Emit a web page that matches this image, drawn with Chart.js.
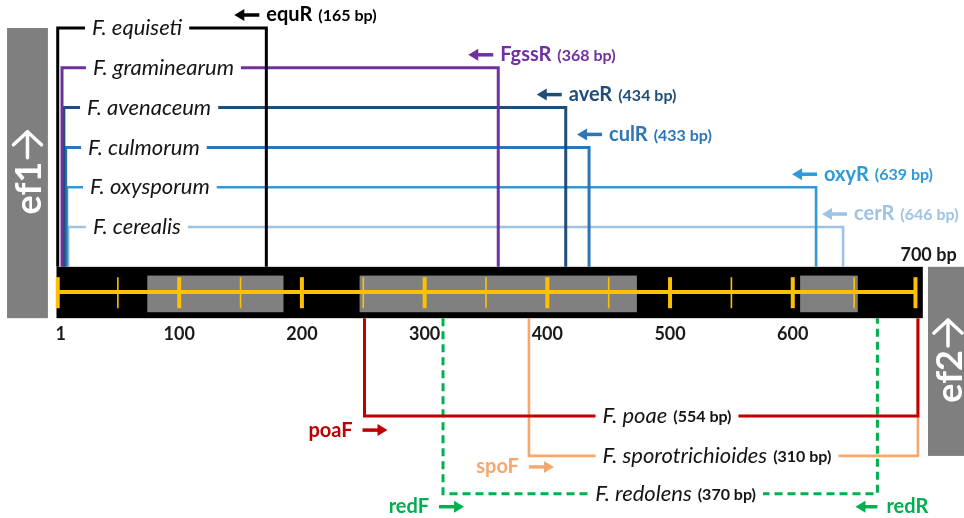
<!DOCTYPE html>
<html>
<head>
<meta charset="utf-8">
<script src="https://cdn.jsdelivr.net/npm/chart.js@4.4.1/dist/chart.umd.min.js"></script>
<style>
  html, body { margin: 0; padding: 0; background: #ffffff; }
  #wrap { width: 964px; height: 518px; }
</style>
</head>
<body>
<div id="wrap"><canvas id="map" width="964" height="518"></canvas></div>
<script>
// ---- EF-1α region: species-specific primer pairs (positions in bp) ----

// Species amplified with the common forward primer ef1 (reverse primers are specific)
const topSpecies   = ['F. equiseti', 'F. graminearum', 'F. avenaceum', 'F. culmorum', 'F. oxysporum', 'F. cerealis'];
const topPrimers   = ['equR', 'FgssR', 'aveR', 'culR', 'oxyR', 'cerR'];
const topProduct   = [165, 368, 434, 433, 639, 646];      // product size, bp
const topStart     = [1, 4.5, 6, 7.5, 8.5, 9.5];          // ef1 site
const topEnd       = [171, 360, 415, 434, 619, 641];      // reverse primer site

// Species amplified with a specific forward primer
const bottomSpecies = ['F. poae', 'F. sporotrichioides', 'F. redolens'];
const bottomPrimers = ['poaF', 'spoF', 'redF'];
const bottomProduct = [554, 310, 370];
const bottomStart   = [251, 385, 315];
const bottomEnd     = [702, 702, 669];
const redolensReverse = 'redR';

// Sequence ruler
const seqTicksMajor = [1, 100, 200, 300, 400, 500, 600, 700];
const seqTicksMinor = [50, 150, 250, 350, 450, 550, 650];
const seqTickLabels = ['1', '100', '200', '300', '400', '500', '600'];
const seqEndLabel   = '700 bp';
const greySegments  = [[74, 185], [247, 473], [606, 653]];

// ---- layout (lane units on y, bp on x) ----
const topLane    = [0, 1, 2, 3, 4, 5];
const bottomLane = [9.75, 10.75, 11.7];
const BAR = { top: 6.0, bottom: 7.29, mid: 6.63, greyTop: 6.22, greyBottom: 7.14, tickTop: 6.26, tickBottom: 7.04, left: 0, right: 706 };
const EF1_BOX = { x0: -40.3, x1: -7.0 };
const EF2_BOX = { x0: 710.2, x1: 745 };

const topColors    = ['#000000', '#7030A0', '#1F4E79', '#2E75B6', '#2E9AD8', '#9DC3E6'];
const bottomColors = ['#C00000', '#F4A86E', '#00B050'];
const topWidths    = [3, 3, 3, 3, 2.6, 2.6];
const bottomWidths = [3, 2.6, 3];

const topLabelX        = [28.9, 29.7, 24.9, 25.7, 27.3, 29.7];  // left edge of species label
const bottomLabelX     = [445, 445, 439];
const topArrowShift    = [-7, -5, -4, 13, 1, 4];                 // px from reverse site to arrow tail
const bottomArrowShift = [-2, 0, -4];
const bottomArrowDy    = [14, 11, 13];

const FONT = 'Lato, "Open Sans", "Noto Sans", sans-serif';
const SPECIES_FONT = 'italic 22px ' + FONT;
const SIZE_FONT = 'bold 16px ' + FONT;

// ---- datasets: one bracket per amplicon ----
const datasets = [];
topSpecies.forEach((name, i) => {
  datasets.push({
    label: name,
    data: [
      { x: topStart[i], y: BAR.top },
      { x: topStart[i], y: topLane[i] },
      { x: topEnd[i],   y: topLane[i] },
      { x: topEnd[i],   y: BAR.top }
    ],
    borderColor: topColors[i],
    borderWidth: topWidths[i]
  });
});
bottomSpecies.forEach((name, i) => {
  datasets.push({
    label: name,
    data: [
      { x: bottomStart[i], y: BAR.bottom },
      { x: bottomStart[i], y: bottomLane[i] },
      { x: bottomEnd[i],   y: bottomLane[i] },
      { x: bottomEnd[i],   y: BAR.bottom }
    ],
    borderColor: bottomColors[i],
    borderWidth: bottomWidths[i],
    borderDash: name === 'F. redolens' ? [8, 5] : []
  });
});
datasets.forEach(d => Object.assign(d, {
  showLine: true, pointRadius: 0, pointHoverRadius: 0, tension: 0,
  borderJoinStyle: 'miter', borderCapStyle: 'butt', fill: false, clip: false
}));

// ---- drawing helpers ----
function arrow(ctx, xTail, y, dir, len, color) {
  const head = 10, hw = 6;
  const xTip = xTail + dir * len;
  ctx.save();
  ctx.strokeStyle = color; ctx.fillStyle = color; ctx.lineWidth = 3.5;
  ctx.beginPath(); ctx.moveTo(xTail, y); ctx.lineTo(xTip - dir * head * 0.7, y); ctx.stroke();
  ctx.beginPath(); ctx.moveTo(xTip, y); ctx.lineTo(xTip - dir * head, y - hw); ctx.lineTo(xTip - dir * head, y + hw); ctx.closePath(); ctx.fill();
  ctx.restore();
}

function speciesLabel(ctx, x, y, name, size) {
  ctx.font = SPECIES_FONT;
  const w1 = ctx.measureText(name).width;
  let w = w1, w2 = 0;
  const sizeText = size ? '(' + size + ' bp)' : '';
  if (size) {
    ctx.font = SIZE_FONT;
    w2 = ctx.measureText(sizeText).width;
    w = w1 + 6 + w2;
  }
  ctx.fillStyle = '#ffffff';
  ctx.fillRect(x - 7, y - 6, w + 14, 12);
  ctx.textBaseline = 'middle'; ctx.textAlign = 'left';
  ctx.fillStyle = '#151515';
  ctx.font = SPECIES_FONT;
  ctx.fillText(name, x, y);
  if (size) {
    ctx.font = SIZE_FONT;
    ctx.fillText(sizeText, x + w1 + 6, y + 1);
  }
}

function efLabel(ctx, cx, cy, text) {
  ctx.save();
  ctx.translate(cx, cy);
  ctx.rotate(-Math.PI / 2);
  ctx.fillStyle = '#ffffff'; ctx.strokeStyle = '#ffffff';
  ctx.font = 'bold 36px ' + FONT;
  ctx.textBaseline = 'middle'; ctx.textAlign = 'left';
  const tw = ctx.measureText(text).width;
  const aw = 26, gap = 4;
  const x0 = -(tw + gap + aw) / 2;
  ctx.fillText(text, x0, 2);
  // arrow along the reading direction
  const ax0 = x0 + tw + gap, ax1 = ax0 + aw;
  ctx.lineWidth = 3.5; ctx.lineCap = 'round'; ctx.lineJoin = 'round';
  ctx.beginPath(); ctx.moveTo(ax0, 0); ctx.lineTo(ax1, 0); ctx.stroke();
  ctx.beginPath(); ctx.moveTo(ax1 - 13, -14); ctx.lineTo(ax1, 0); ctx.lineTo(ax1 - 13, 14); ctx.stroke();
  ctx.restore();
}

const mapPlugin = {
  id: 'ampliconMap',
  beforeDatasetsDraw(chart) {
    const { ctx, scales: { x, y } } = chart;
    const X = v => x.getPixelForValue(v), Y = v => y.getPixelForValue(v);
    ctx.save();
    // primer boxes
    ctx.fillStyle = '#7f7f7f';
    ctx.fillRect(X(EF1_BOX.x0), Y(topLane[0]), X(EF1_BOX.x1) - X(EF1_BOX.x0), Y(BAR.bottom) - Y(topLane[0]));
    ctx.fillRect(X(EF2_BOX.x0), Y(BAR.top), X(EF2_BOX.x1) - X(EF2_BOX.x0), Y(bottomLane[1]) - Y(BAR.top));
    // sequence bar
    ctx.fillStyle = '#000000';
    ctx.fillRect(X(BAR.left), Y(BAR.top), X(BAR.right) - X(BAR.left), Y(BAR.bottom) - Y(BAR.top));
    ctx.fillStyle = '#808080';
    greySegments.forEach(([a, b]) => {
      ctx.fillRect(X(a), Y(BAR.greyTop), X(b) - X(a), Y(BAR.greyBottom) - Y(BAR.greyTop));
    });
    ctx.strokeStyle = '#FFC000';
    ctx.lineWidth = 4;
    ctx.beginPath(); ctx.moveTo(X(1), Y(BAR.mid)); ctx.lineTo(X(700), Y(BAR.mid)); ctx.stroke();
    seqTicksMajor.forEach(t => {
      ctx.lineWidth = 4;
      ctx.beginPath(); ctx.moveTo(X(t), Y(BAR.tickTop)); ctx.lineTo(X(t), Y(BAR.tickBottom)); ctx.stroke();
    });
    seqTicksMinor.forEach(t => {
      ctx.lineWidth = 1.6;
      ctx.beginPath(); ctx.moveTo(X(t), Y(BAR.tickTop)); ctx.lineTo(X(t), Y(BAR.tickBottom)); ctx.stroke();
    });
    ctx.restore();
  },
  afterDatasetsDraw(chart) {
    const { ctx, scales: { x, y } } = chart;
    const X = v => x.getPixelForValue(v), Y = v => y.getPixelForValue(v);
    ctx.save();

    // species labels on the brackets
    topSpecies.forEach((name, i) => speciesLabel(ctx, X(topLabelX[i]), Y(topLane[i]), name, null));
    bottomSpecies.forEach((name, i) => speciesLabel(ctx, X(bottomLabelX[i]), Y(bottomLane[i]), name, bottomProduct[i]));

    // reverse primers (top)
    topPrimers.forEach((p, i) => {
      const yy = Y(topLane[i]) - 13;
      const tail = X(topEnd[i]) + topArrowShift[i];
      arrow(ctx, tail, yy, -1, 25, topColors[i]);
      ctx.fillStyle = topColors[i];
      ctx.textBaseline = 'middle'; ctx.textAlign = 'left';
      ctx.font = 'bold 20px ' + FONT;
      ctx.fillText(p, tail + 7, yy);
      const w = ctx.measureText(p).width;
      ctx.font = SIZE_FONT;
      ctx.fillText('(' + topProduct[i] + ' bp)', tail + 7 + w + 6, yy + 1);
    });

    // forward primers (bottom)
    bottomPrimers.forEach((p, i) => {
      const yy = Y(bottomLane[i]) + bottomArrowDy[i];
      const tail = X(bottomStart[i]) + bottomArrowShift[i];
      arrow(ctx, tail, yy, 1, 25, bottomColors[i]);
      ctx.fillStyle = bottomColors[i];
      ctx.textBaseline = 'middle'; ctx.textAlign = 'right';
      ctx.font = 'bold 20px ' + FONT;
      ctx.fillText(p, tail - 10, yy);
    });
    // redolens reverse primer
    {
      const yy = Y(bottomLane[2]) + 13;
      const tail = X(bottomEnd[2]);
      arrow(ctx, tail, yy, -1, 22, bottomColors[2]);
      ctx.fillStyle = bottomColors[2];
      ctx.textBaseline = 'middle'; ctx.textAlign = 'left';
      ctx.font = 'bold 20px ' + FONT;
      ctx.fillText(redolensReverse, tail + 9, yy);
    }

    // ruler labels
    ctx.fillStyle = '#1a1a1a';
    ctx.font = 'bold 18px ' + FONT;
    ctx.textAlign = 'center'; ctx.textBaseline = 'middle';
    seqTickLabels.forEach((t, i) => ctx.fillText(t, X(seqTicksMajor[i]) + (i === 0 ? 3 : 0), Y(BAR.bottom) + 16));
    ctx.textAlign = 'left';
    ctx.fillText(seqEndLabel, X(700) - 15, Y(BAR.top) - 12);

    // primer boxes text
    efLabel(ctx, (X(EF1_BOX.x0) + X(EF1_BOX.x1)) / 2, (Y(topLane[0]) + Y(BAR.bottom)) / 2, 'ef1');
    efLabel(ctx, X(EF2_BOX.x0) + 20, (Y(BAR.top) + Y(bottomLane[1])) / 2, 'ef2');

    ctx.restore();
  }
};

new Chart(document.getElementById('map'), {
  type: 'scatter',
  data: { datasets },
  options: {
    responsive: false,
    animation: false,
    devicePixelRatio: 1,
    layout: { padding: 0 },
    events: [],
    plugins: { legend: { display: false }, tooltip: { enabled: false } },
    scales: {
      x: { type: 'linear', min: -46.04, max: 739.55, display: false },
      y: { type: 'linear', reverse: true, min: -0.7035, max: 12.31, display: false }
    }
  },
  plugins: [mapPlugin]
});
</script>
</body>
</html>
